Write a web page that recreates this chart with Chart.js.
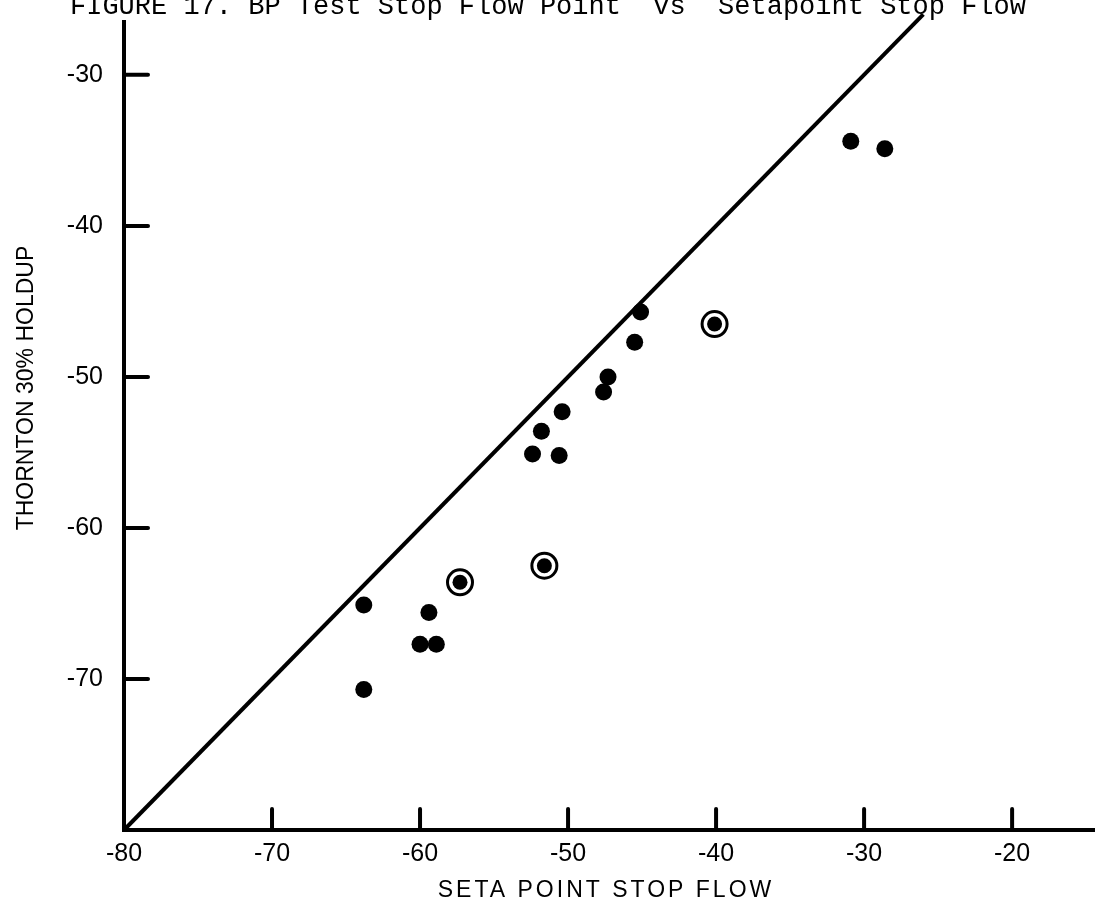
<!DOCTYPE html>
<html>
<head>
<meta charset="utf-8">
<title>Figure 17</title>
<script src="https://cdn.jsdelivr.net/npm/chart.js@4.4.0/dist/chart.umd.min.js"></script>
<style>
  html, body { margin: 0; padding: 0; background: #fff; }
  canvas { display: block; }
</style>
</head>
<body>
<canvas id="figure17" width="1095" height="916"></canvas>
<script>
const chartTitle = 'FIGURE 17. BP Test Stop Flow Point  vs  Setapoint Stop Flow';
const xTitle = 'SETA POINT STOP FLOW';
const yTitle = 'THORNTON 30% HOLDUP';

const xTicks = [-80, -70, -60, -50, -40, -30, -20];
const yTicks = [-70, -60, -50, -40, -30];

// Seta point vs Thornton holdup, ordinary runs
const setaPoint = [-45.1, -45.5, -47.3, -47.6, -50.4, -51.8, -52.4, -50.6, -63.8, -59.4, -60.0, -58.9, -63.8, -30.9, -28.6];
const thornton  = [-45.7, -47.7, -50.0, -51.0, -52.3, -53.6, -55.1, -55.2, -65.1, -65.6, -67.7, -67.7, -70.7, -34.4, -34.9];

// runs marked with a ring
const ringedSeta     = [-40.1, -51.6, -57.3];
const ringedThornton = [-46.5, -62.5, -63.6];

// line of equality (x = y)
const equalityLine = [-80, -26];

const toPoints = (xs, ys) => xs.map((x, i) => ({ x: x, y: ys[i] }));

const tickFont = { family: '"Liberation Sans", Arial, sans-serif', size: 25 };

// fixed axis sizes so the plot area lands where the figure has it
const fixAxis = (size, key) => s => {
    s[key] = size;
    s.paddingTop = s.paddingBottom = s.paddingLeft = s.paddingRight = 0;
};

// inward tick marks and the text around the plot
const decorations = {
    id: 'decorations',
    afterDraw(chart) {
        const { ctx, chartArea, scales: { x, y } } = chart;
        ctx.save();
        ctx.strokeStyle = '#000';
        ctx.lineWidth = 4;
        ctx.lineCap = 'round';
        yTicks.forEach(v => {
            const py = y.getPixelForValue(v);
            ctx.beginPath();
            ctx.moveTo(chartArea.left, py);
            ctx.lineTo(chartArea.left + 24, py);
            ctx.stroke();
        });
        xTicks.slice(1).forEach(v => {
            const px = x.getPixelForValue(v);
            ctx.beginPath();
            ctx.moveTo(px, chartArea.bottom);
            ctx.lineTo(px, chartArea.bottom - 21);
            ctx.stroke();
        });

        ctx.fillStyle = '#000';
        ctx.textBaseline = 'alphabetic';
        ctx.textAlign = 'left';
        ctx.font = '27px "Liberation Mono", "Courier New", monospace';
        ctx.fillText(chartTitle, 70, 14);

        ctx.font = '23px "Liberation Sans", Arial, sans-serif';
        ctx.textAlign = 'center';
        ctx.letterSpacing = '3px';
        ctx.fillText(xTitle, 606, 897);
        ctx.letterSpacing = '0px';

        ctx.translate(33, 388);
        ctx.rotate(-Math.PI / 2);
        ctx.fillText(yTitle, 0, 0);
        ctx.restore();
    }
};

new Chart(document.getElementById('figure17'), {
    type: 'scatter',
    data: {
        datasets: [
            {
                label: 'runs',
                data: toPoints(setaPoint, thornton),
                pointRadius: 8.5,
                pointBackgroundColor: '#000',
                pointBorderWidth: 0
            },
            {
                label: 'ringed runs',
                data: toPoints(ringedSeta, ringedThornton),
                pointRadius: 7.5,
                pointBackgroundColor: '#000',
                pointBorderWidth: 0
            },
            {
                label: 'rings',
                data: toPoints(ringedSeta, ringedThornton),
                pointRadius: 12.5,
                pointBackgroundColor: '#fff',
                pointBorderColor: '#000',
                pointBorderWidth: 3
            },
            {
                type: 'line',
                label: 'x = y',
                data: toPoints(equalityLine, equalityLine),
                borderColor: '#000',
                borderWidth: 4,
                pointRadius: 0,
                clip: false
            }
        ]
    },
    options: {
        responsive: false,
        devicePixelRatio: 1,
        animation: false,
        events: [],
        layout: { autoPadding: false, padding: { top: 22, right: 0, bottom: 0, left: 0 } },
        plugins: {
            legend: { display: false },
            tooltip: { enabled: false },
            title: { display: false }
        },
        scales: {
            x: {
                type: 'linear',
                min: -80,
                max: -14.4,
                afterBuildTicks: s => { s.ticks = xTicks.map(v => ({ value: v })); },
                afterFit: fixAxis(86, 'height'),
                ticks: { font: tickFont, color: '#000', padding: 9, autoSkip: false, maxRotation: 0 },
                grid: { drawOnChartArea: false, drawTicks: false },
                border: { color: '#000', width: 4 }
            },
            y: {
                type: 'linear',
                min: -80,
                max: -26.5,
                afterBuildTicks: s => { s.ticks = yTicks.map(v => ({ value: v })); },
                afterFit: fixAxis(124, 'width'),
                ticks: { font: tickFont, color: '#000', padding: 21, autoSkip: false },
                grid: { drawOnChartArea: false, drawTicks: false },
                border: { color: '#000', width: 4 }
            }
        }
    },
    plugins: [decorations]
});
</script>
</body>
</html>
